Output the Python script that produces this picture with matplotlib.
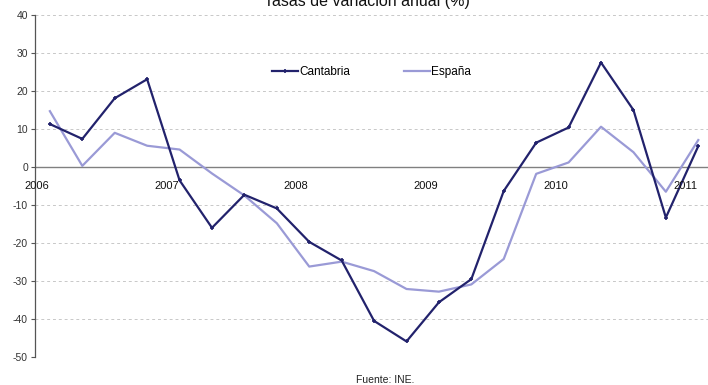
import numpy as np
import matplotlib
matplotlib.use('Agg')
import matplotlib.pyplot as plt

plt.rcParams['font.family'] = ['Liberation Sans', 'DejaVu Sans']

# quarterly values, 2006 Q1 .. 2011 Q1
cantabria = [11.3, 7.4, 18.1, 23.1, -3.5, -16.0, -7.3, -10.9, -19.7, -24.6,
             -40.5, -45.9, -35.6, -29.5, -6.3, 6.4, 10.4, 27.5, 15.0, -13.3, 5.5]
espana = [14.7, 0.3, 9.0, 5.6, 4.6, -1.7, -7.5, -14.8, -26.2, -24.9,
          -27.4, -32.1, -32.8, -30.9, -24.2, -1.8, 1.2, 10.6, 3.9, -6.5, 7.1]
years = ['2006', '2007', '2008', '2009', '2010', '2011']
yticks = [-50, -40, -30, -20, -10, 0, 10, 20, 30, 40]

x = np.arange(len(cantabria))

fig = plt.figure(figsize=(7.08, 3.85), dpi=100)
ax = fig.add_axes([0.0494, 0.0727, 0.9506, 0.8883])

ax.plot(x, cantabria, color='#22226c', lw=1.6, marker='+', ms=3.5, mew=1.2,
        label='Cantabria', zorder=3)
ax.plot(x, espana, color='#9a9ad6', lw=1.6, label='España', zorder=2)

ax.set_ylim(-50, 40)
ax.set_xlim(-0.46, 20.3)
ax.set_yticks(yticks)
ax.set_yticklabels([str(v) for v in yticks], fontsize=7.5, color='#333333')
ax.set_xticks([])
ax.tick_params(axis='y', length=3, width=0.8, color='#555555', pad=2)

for y in yticks:
    if y != 0:
        ax.axhline(y, color='#c8c8c8', lw=0.7, ls=(0, (3, 3)), zorder=0)
ax.axhline(0, color='#808080', lw=1.0, zorder=1)

for s in ['top', 'right', 'bottom']:
    ax.spines[s].set_visible(False)
ax.spines['left'].set_color('#555555')
ax.spines['left'].set_linewidth(0.9)

# year labels sit just under the zero line
for j, yr in enumerate(years):
    ax.text(4 * j - 0.4, -5.0, yr, ha='center', va='center', fontsize=8,
            color='#111111')

ax.legend(loc='center', bbox_to_anchor=(0.5, 0.833), ncol=2, frameon=False,
          fontsize=8.5, handlelength=2.2, handletextpad=0.1, columnspacing=4.6)

fig.text(0.518, 0.984, 'Tasas de variación anual (%)', ha='center', va='baseline',
         fontsize=11.5, color='#111111')
fig.text(0.544, 0.013, 'Fuente: INE.', ha='center', va='center', fontsize=7.5,
         color='#222222')

fig.savefig('out.png', dpi=100)
